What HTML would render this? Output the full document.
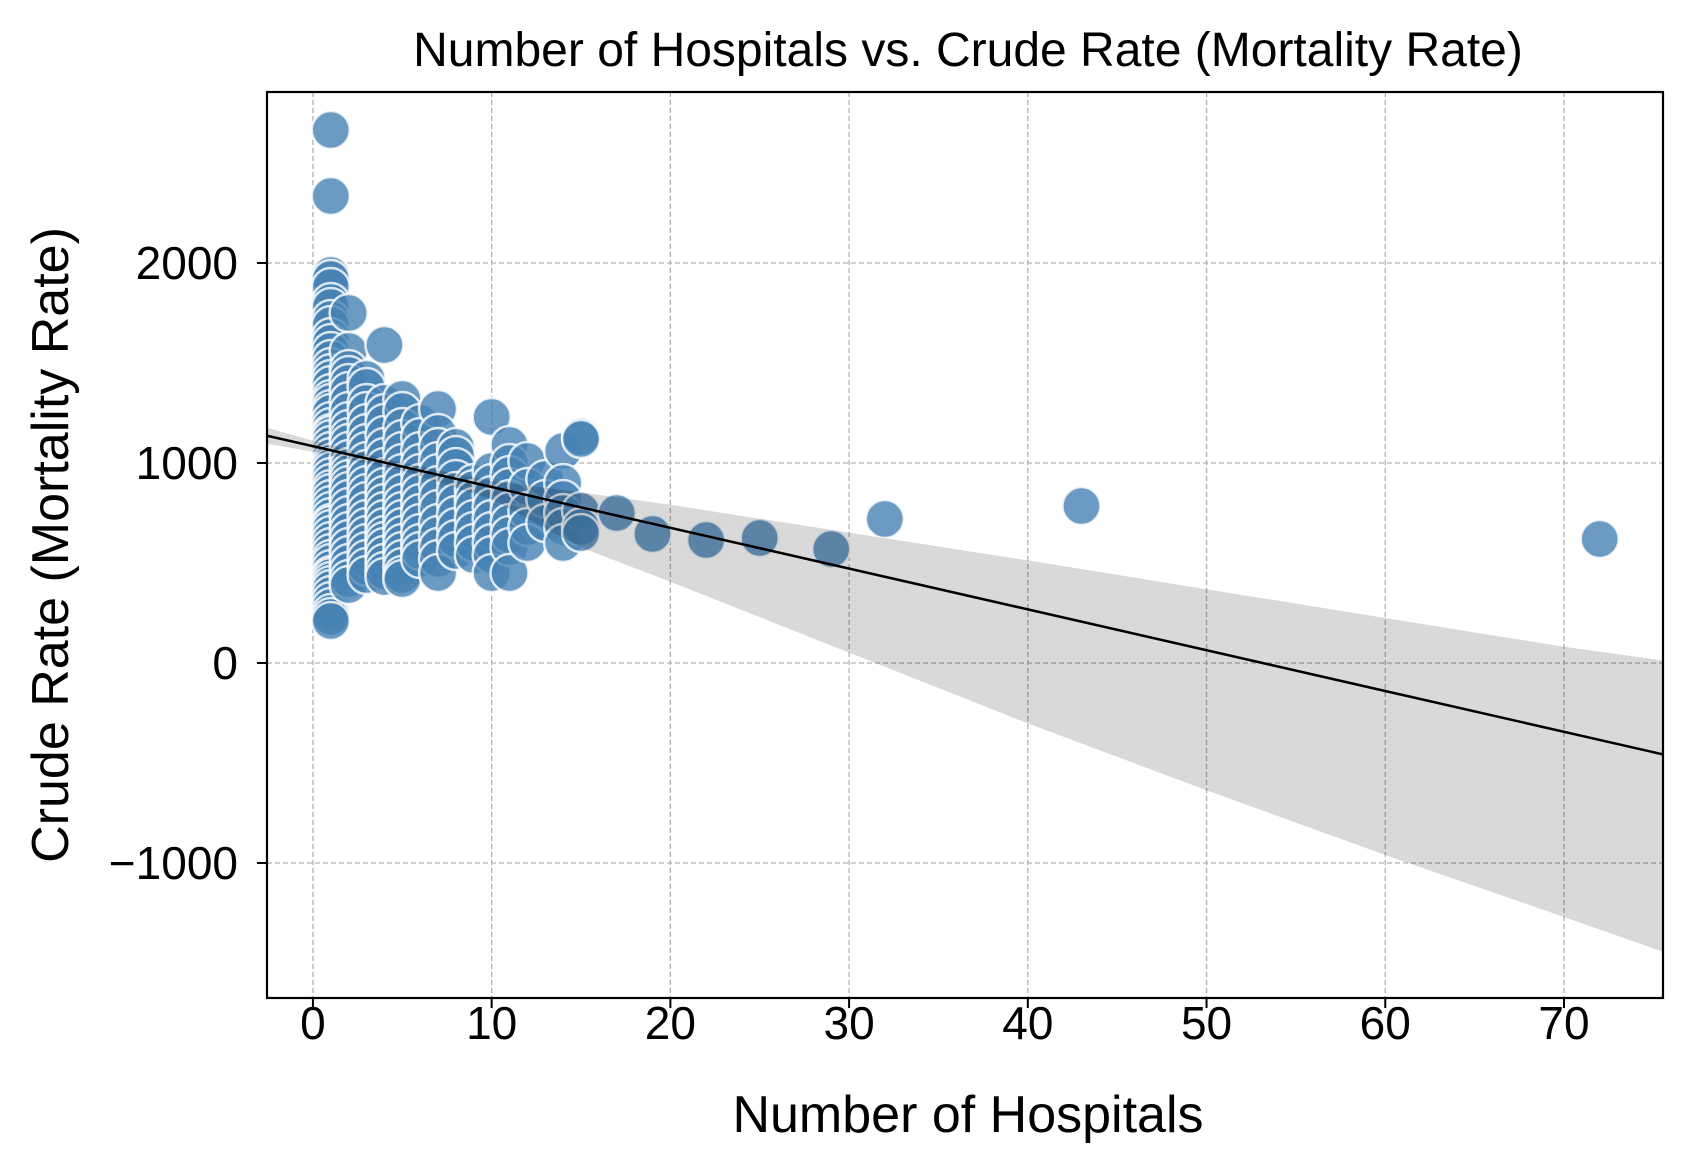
<!DOCTYPE html>
<html><head><meta charset="utf-8"><style>
html,body{margin:0;padding:0;background:#fff;}
svg text{font-family:"Liberation Sans",Arial,sans-serif;fill:#000;}
</style></head><body>
<svg id="chart" width="1696" height="1170" viewBox="0 0 1696 1170" xmlns="http://www.w3.org/2000/svg">
<rect width="1696" height="1170" fill="#fff"/>
<defs><clipPath id="plotclip"><rect x="267" y="92" width="1396" height="906"/></clipPath></defs>
<g id="grid"></g>
<g id="points" clip-path="url(#plotclip)"></g>
<g id="band" clip-path="url(#plotclip)"></g>
<g id="line" clip-path="url(#plotclip)"></g>
<rect x="267" y="92" width="1396" height="906" fill="none" stroke="#000" stroke-width="2.2"/>
<g id="axes"></g>
<text x="968" y="66" font-size="48" text-anchor="middle">Number of Hospitals vs. Crude Rate (Mortality Rate)</text>
<text x="968" y="1132" font-size="52" text-anchor="middle">Number of Hospitals</text>
<text x="0" y="0" font-size="52" text-anchor="middle" transform="translate(68,545) rotate(-90)">Crude Rate (Mortality Rate)</text>
</svg>
<script>
const xTicks=[0,10,20,30,40,50,60,70];
const yTicks=[-1000,0,1000,2000];
const yTickLabels=["\u22121000","0","1000","2000"];
const groupX=[1,2,3,4,5,6,7,8,9,10,11,12,13,14,15];
const groupY=[
[2665,2335,1940,1920,1880,1805,1780,1720,1690,1630,1600,1560,1520,1480,1450,1420,1390,1350,1320,1300,1270,1250,1210,1180,1150,1140,1120,1090,1060,1030,1000,980,960,930,900,870,850,820,790,760,730,700,690,670,640,610,580,550,520,500,470,440,430,410,390,370,340,310,280,250,230,210],
[1750,1560,1470,1440,1400,1360,1310,1260,1210,1170,1130,1100,1060,1020,980,950,920,890,860,820,780,740,700,660,620,580,540,500,460,420,390],
[1420,1380,1300,1260,1200,1150,1100,1060,1010,970,930,890,850,810,760,720,680,640,600,560,520,480,440],
[1590,1300,1250,1200,1140,1080,1030,980,930,880,840,800,760,720,680,640,610,580,540,500,460,430],
[1320,1260,1180,1120,1060,1000,950,900,850,800,760,720,680,640,600,560,520,480,440,420],
[1200,1130,1060,1000,950,900,850,800,750,700,650,600,560,520],
[1270,1150,1080,1010,950,890,830,770,700,640,580,520,450],
[1080,1040,980,920,860,800,740,680,620,560],
[900,870,820,780,720,660,600,540],
[1230,960,900,840,780,720,660,600,540,450],
[1090,1000,940,880,820,760,700,640,580,450],
[1010,880,760,680,600],
[920,820,700],
[1060,900,820,750,680,600],
[1130,1120,760,680,650]
];
const extraX=[17,19,22,25,29,32,43,72];
const extraY=[750,645,615,625,570,720,785,620];
const regIntercept=1084;
const regSlope=-20.4;
const bandX=[-2.57,0,5,10,15,20,30,40,50,60,70,75.54];
const bandUpperOff=[40,28,18,30,75,115,180,245,305,365,425,470];
const bandLowerOff=[-40,-28,-20,-60,-200,-270,-420,-570,-700,-820,-926,-987];

const X0=267,X1=1663,Y0=92,Y1=998;
const xmin=-2.57,xmax=75.54,ymin=-1675,ymax=2855;
const sx=v=>X0+(v-xmin)/(xmax-xmin)*(X1-X0);
const sy=v=>Y1-(v-ymin)/(ymax-ymin)*(Y1-Y0);
const NS="http://www.w3.org/2000/svg";
function mk(tag,attrs,parent){const e=document.createElementNS(NS,tag);for(const k in attrs)e.setAttribute(k,attrs[k]);parent.appendChild(e);return e;}
const grid=document.getElementById('grid'),axes=document.getElementById('axes');
xTicks.forEach(t=>{
  const gl=mk('line',{x1:sx(t),x2:sx(t),y1:Y0,y2:Y1,stroke:'#b0b0b0','stroke-width':1.3,'stroke-dasharray':'5,3'},grid);
  
  
  const tk=mk('line',{x1:sx(t),x2:sx(t),y1:Y1,y2:Y1+10,stroke:'#000','stroke-width':2},axes);
  
  
  const tl=mk('text',{x:sx(t),y:1039,'font-size':46,'text-anchor':'middle'},axes);
  tl.textContent=String(t);
  
  
});
yTicks.forEach((t,i)=>{
  const gl=mk('line',{x1:X0,x2:X1,y1:sy(t),y2:sy(t),stroke:'#b0b0b0','stroke-width':1.3,'stroke-dasharray':'5,3'},grid);
  
  
  const tk=mk('line',{x1:X0-10,x2:X0,y1:sy(t),y2:sy(t),stroke:'#000','stroke-width':2},axes);
  
  
  const tl=mk('text',{x:X0-29,y:sy(t)+16,'font-size':46,'text-anchor':'end'},axes);
  tl.textContent=yTickLabels[i];
  
  
});
const pts=document.getElementById('points');
function dot(x,y){
  const c=mk('circle',{cx:sx(x),cy:sy(y),r:19,fill:'#4682b4','fill-opacity':0.8,stroke:'#fff','stroke-opacity':0.8,'stroke-width':2.5},pts);
  
  
}
groupX.forEach((gx,i)=>groupY[i].forEach(v=>dot(gx,v)));
extraX.forEach((x,i)=>dot(x,extraY[i]));
const reg=x=>regIntercept+regSlope*x;
let d='';
bandX.forEach((x,i)=>{d+=(i?'L':'M')+sx(x)+','+sy(reg(x)+bandUpperOff[i]);});
for(let i=bandX.length-1;i>=0;i--){d+='L'+sx(bandX[i])+','+sy(reg(bandX[i])+bandLowerOff[i]);}
const bp=mk('path',{d:d+'Z',fill:'#000','fill-opacity':0.15,stroke:'none'},document.getElementById('band'));


const rl=mk('line',{x1:sx(xmin),y1:sy(reg(xmin)),x2:sx(xmax),y2:sy(reg(xmax)),stroke:'#000','stroke-width':2.5},document.getElementById('line'));


</script>
</body></html>
